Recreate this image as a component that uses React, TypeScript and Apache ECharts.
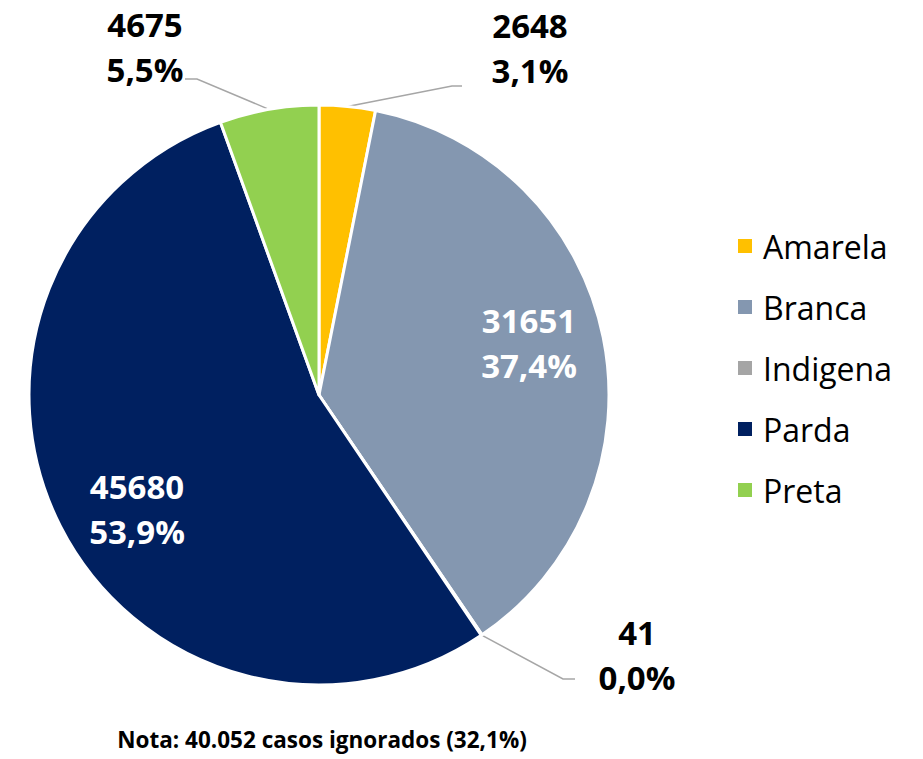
import React, { useEffect, useRef } from "react";
import * as echarts from "echarts";

const categories = ["Amarela", "Branca", "Indigena", "Parda", "Preta"];
const values = [2648, 31651, 41, 45680, 4675];
const colors = ["#FFC000", "#8497B0", "#A5A5A5", "#002060", "#92D050"];
const noteText = "Nota: 40.052 casos ignorados (32,1%)";

// label layout (positions only): [labelX, labelTopY, elbowX, elbowY, endX, endY] ; null elbow => inside
const labelLayoutPos: (number | null)[][] = [
  [530, 8, 452, 86, 462, 86],
  [529, 303, null, null, null, null],
  [637, 615, 563, 679, 575, 679],
  [137, 469, null, null, null, null],
  [145, 7, 197, 79, 185, 79],
];

const FONT = "'Open Sans', 'Noto Sans', sans-serif";

export default function App() {
  const ref = useRef<HTMLDivElement>(null);
  useEffect(() => {
    document.body.style.margin = "0";
    const chart = echarts.init(ref.current!, null, { renderer: "svg" });
    const total = values.reduce((a, b) => a + b, 0);
    const fmtPct = (v: number) => ((v / total) * 100).toFixed(1).replace(".", ",") + "%";
    const richFor = (color: string) => ({
      a: { fontFamily: FONT, fontWeight: "bold", fontSize: 33, lineHeight: 34, color },
      b: { fontFamily: FONT, fontWeight: "bold", fontSize: 33, lineHeight: 56, color },
    });
    chart.setOption({
      animation: false,
      backgroundColor: "#ffffff",
      title: {
        text: noteText,
        left: 322,
        top: 728,
        padding: 0,
        textAlign: "center",
        textStyle: { fontFamily: FONT, fontWeight: "bold", fontSize: 22.5, color: "#000" },
      },
      legend: {
        orient: "vertical",
        left: 731,
        top: 224,
        itemWidth: 16,
        itemHeight: 16,
        itemGap: 27,
        icon: "rect",
        data: categories,
        textStyle: { fontFamily: FONT, fontSize: 32, color: "#000", padding: [0, 0, 0, 5], lineHeight: 34 },
      },
      series: [
        {
          type: "pie",
          center: [319, 395],
          radius: [0, 290],
          startAngle: 90,
          clockwise: true,
          avoidLabelOverlap: false,
          itemStyle: { borderColor: "#ffffff", borderWidth: 3 },
          label: {
            show: true,
            position: "outside",
            fontFamily: FONT,
            fontWeight: "bold",
            fontSize: 33,
            color: "#000",
            rich: richFor("#000"),
            formatter: (p: any) => "{a|" + p.value + "}\n{b|" + fmtPct(p.value) + "}",
          },
          labelLine: { show: true, lineStyle: { color: "#A6A6A6", width: 1.5 } },
          labelLayout: (params: any) => {
            const pos = labelLayoutPos[params.dataIndex];
            const res: any = { x: pos[0], y: pos[1], align: "center", verticalAlign: "top" };
            if (pos[2] !== null && params.labelLinePoints) {
              const start = params.labelLinePoints[0];
              res.labelLinePoints = [start, [pos[2], pos[3]], [pos[4], pos[5]]];
            }
            return res;
          },
          data: categories.map((name, i) => {
            const inside = labelLayoutPos[i][2] === null;
            return {
              name,
              value: values[i],
              itemStyle: { color: colors[i] },
              label: inside ? { position: "inside", color: "#ffffff", rich: richFor("#ffffff") } : undefined,
              labelLine: inside ? { show: false } : undefined,
            };
          }),
        },
      ],
    });
    return () => chart.dispose();
  }, []);
  return <div ref={ref} style={{ width: 923, height: 759 }} />;
}
